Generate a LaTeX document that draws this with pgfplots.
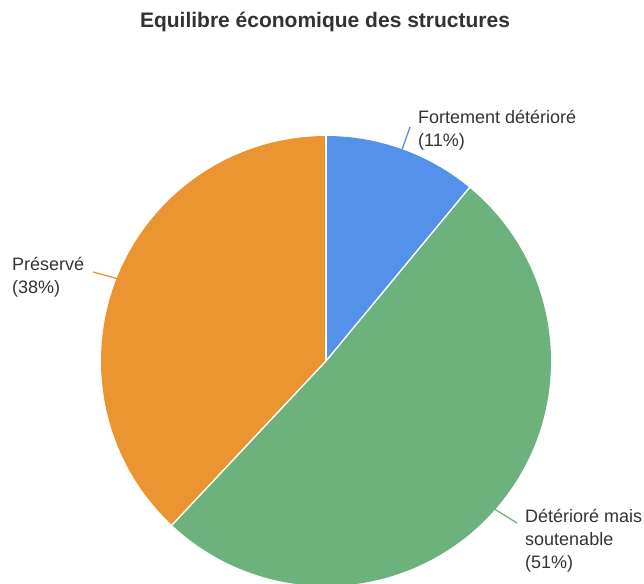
\documentclass[border=0pt]{standalone}
\usepackage{fontspec}
\setmainfont{Liberation Sans}
\usepackage{pgfplots}
\usepackage{pgfplotstable}
\pgfplotsset{compat=1.18}

\definecolor{pieblue}{HTML}{5391EA}
\definecolor{piegreen}{HTML}{6DB27C}
\definecolor{pieorange}{HTML}{EB9532}
\definecolor{txt}{HTML}{333333}

% parts (%) clockwise from 12 o'clock
\pgfplotstableread{
label share
fort 11
deter 51
preserve 38
}\sharetable

\begin{document}
\begin{tikzpicture}
\path[use as bounding box] (0pt,0pt) rectangle (644pt,-583pt);
\pgfplotstablegetelem{0}{share}\of\sharetable \let\sA\pgfplotsretval
\pgfplotstablegetelem{1}{share}\of\sharetable \let\sB\pgfplotsretval
\pgfplotstablegetelem{2}{share}\of\sharetable \let\sC\pgfplotsretval
\pgfmathsetmacro\aA{90}
\pgfmathsetmacro\aB{\aA-3.6*\sA}
\pgfmathsetmacro\aC{\aB-3.6*\sB}
\pgfmathsetmacro\aD{\aC-3.6*\sC}
\pgfmathsetmacro\mA{(\aA+\aB)/2}
\pgfmathsetmacro\mB{(\aB+\aC)/2}
\pgfmathsetmacro\mC{(\aC+\aD)/2}
\begin{axis}[at={(326pt,-361pt)}, anchor=center, scale only axis,
  width=450pt, height=450pt, xmin=-1, xmax=1, ymin=-1, ymax=1,
  hide axis, clip=false]
  \fill[pieblue] (axis cs:0,0) -- ++(\aA:225pt) arc[start angle=\aA, end angle=\aB, radius=225pt] -- cycle;
  \fill[piegreen] (axis cs:0,0) -- ++(\aB:225pt) arc[start angle=\aB, end angle=\aC, radius=225pt] -- cycle;
  \fill[pieorange] (axis cs:0,0) -- ++(\aC:225pt) arc[start angle=\aC, end angle=\aD, radius=225pt] -- cycle;
  \draw[white, line width=1.4pt] (axis cs:0,0) -- ++(\aA:225.5pt);
  \draw[white, line width=1.4pt] (axis cs:0,0) -- ++(\aB:225.5pt);
  \draw[white, line width=1.4pt] (axis cs:0,0) -- ++(\aC:225.5pt);
  \path (axis cs:0,0) ++(\mA:222pt) coordinate (lA);
  \path (axis cs:0,0) ++(\mB:222pt) coordinate (lB);
  \path (axis cs:0,0) ++(\mC:222pt) coordinate (lC);
\end{axis}

% leader lines
\draw[pieblue, line width=1.3pt] (lA) -- (410pt,-127pt);
\draw[piegreen, line width=1.3pt] (lB) -- (517pt,-523pt);
\draw[pieorange, line width=1.3pt] (lC) -- (93pt,-272pt);

\node[font=\fontsize{21}{25}\selectfont\bfseries, text=txt, anchor=base, inner sep=0pt]
  at (325pt,-28pt) {Equilibre économique des structures};

\begin{scope}[every node/.style={font=\fontsize{18}{23}\selectfont, text=txt, anchor=base west, inner sep=0pt}]
  \node at (418pt,-123pt) {Fortement détérioré};
  \node at (418pt,-146pt) {(11\%)};
  \node at (12pt,-270pt) {Préservé};
  \node at (12pt,-293pt) {(38\%)};
  \node at (525pt,-522pt) {Détérioré mais};
  \node at (525pt,-545pt) {soutenable};
  \node at (525pt,-568pt) {(51\%)};
\end{scope}
\end{tikzpicture}
\end{document}
